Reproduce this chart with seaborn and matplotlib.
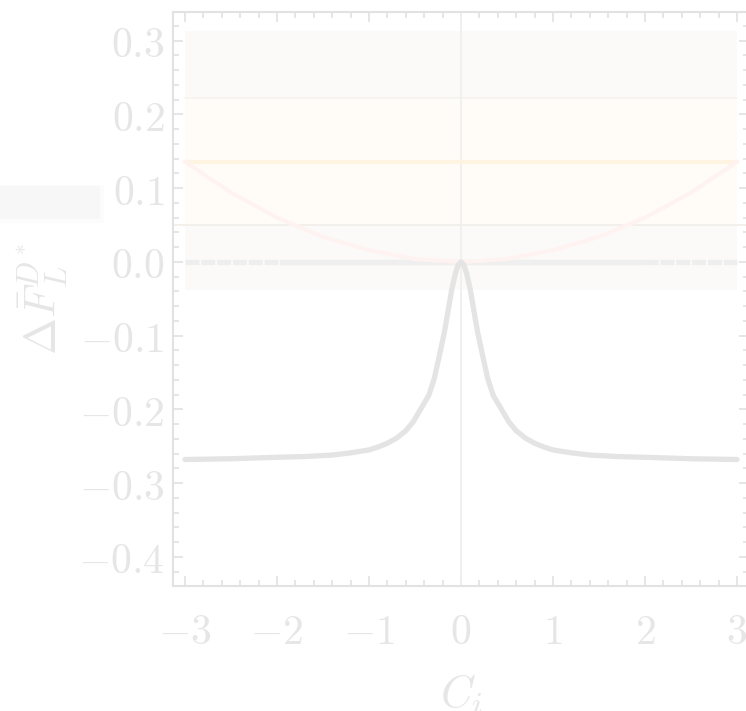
import matplotlib
matplotlib.use("Agg")
import matplotlib.pyplot as plt
import seaborn as sns
import pandas as pd
from matplotlib.patches import Rectangle

# ---------------- data ----------------
curve_x = [-3.0, -2.5, -2.0, -1.7, -1.4, -1.2, -1.0, -0.9, -0.8, -0.7, -0.6, -0.52, -0.44,
           -0.35, -0.29, -0.235, -0.18, -0.14, -0.1, -0.06, -0.03, 0.0,
           0.03, 0.06, 0.1, 0.14, 0.18, 0.235, 0.29, 0.35, 0.44, 0.52, 0.6, 0.7, 0.8, 0.9,
           1.0, 1.2, 1.4, 1.7, 2.0, 2.5, 3.0]
curve_y = [-0.268, -0.267, -0.265, -0.264, -0.262, -0.259, -0.255, -0.251, -0.246, -0.239,
           -0.229, -0.217, -0.200, -0.181, -0.158, -0.127, -0.095, -0.066, -0.037, -0.015,
           -0.004, 0.0,
           -0.004, -0.015, -0.037, -0.066, -0.095, -0.127, -0.158, -0.181, -0.200, -0.217,
           -0.229, -0.239, -0.246, -0.251, -0.255, -0.259, -0.262, -0.264, -0.265, -0.267,
           -0.268]

pink_x = [-3.0, -2.5, -2.0, -1.5, -1.0, -0.5, 0.0, 0.5, 1.0, 1.5, 2.0, 2.5, 3.0]
pink_y = [0.136, 0.094, 0.060, 0.034, 0.016, 0.004, 0.0, 0.004, 0.016, 0.034, 0.060, 0.094, 0.136]

band_outer = [-0.038, 0.313]
band_inner = [0.050, 0.223]
central_value = 0.136
band_x = [-3.0, 3.0]
solid_zero_x = [-1.95, 2.0]

xticks = [-3, -2, -1, 0, 1, 2, 3]
xtick_labels = ["$-3$", "$-2$", "$-1$", "$0$", "$1$", "$2$", "$3$"]
yticks = [-0.4, -0.3, -0.2, -0.1, 0.0, 0.1, 0.2, 0.3]
ytick_labels = ["$-0.4$", "$-0.3$", "$-0.2$", "$-0.1$", "$0.0$", "$0.1$", "$0.2$", "$0.3$"]

# ---------------- style ----------------
sns.set_theme(style="ticks")
plt.rcParams["mathtext.fontset"] = "cm"
plt.rcParams["font.family"] = ["DejaVu Serif"]
plt.rcParams["lines.scale_dashes"] = False

TXT = "#e6e6e6"
SPINE = "#e2e2e2"

W, H = 746, 711
fig = plt.figure(figsize=(W / 100, H / 100), dpi=100)
ax = fig.add_axes([173 / W, (H - 586) / H, (749 - 173) / W, (586 - 12) / H])

# ghost legend box at left
fig.patches.append(Rectangle((0, (H - 223) / H), 104 / W, 38 / H, transform=fig.transFigure,
                             facecolor="#fcfcfc", edgecolor="none", zorder=0))
fig.patches.append(Rectangle((0, (H - 219) / H), 100 / W, 33 / H, transform=fig.transFigure,
                             facecolor="#f7f7f7", edgecolor="none", zorder=1))

# bands
ax.fill_between(band_x, band_outer[0], band_outer[1], color="#fbfaf9", lw=0, zorder=1)
ax.fill_between(band_x, band_inner[0], band_inner[1], color="#fffcf7", lw=0, zorder=1)
ax.plot(band_x, [band_inner[1]] * 2, color="#f6f3ee", lw=1.2, zorder=2)
ax.axhline(band_inner[0], color="#f3f0ec", lw=1.4, zorder=2)
ax.plot(band_x, [central_value] * 2, color="#fff4e2", lw=3.2, zorder=3)

# vertical line at 0
ax.axvline(0, color="#efefef", lw=1.3, zorder=2)

# zero lines
ax.plot(band_x, [0, 0], color="#eeeeee", lw=3.8, dashes=(10, 1.4),
        dash_capstyle="butt", zorder=3)
ax.plot(solid_zero_x, [0, 0], color="#efefef", lw=3.8, zorder=3)

# pink curve
dfp = pd.DataFrame({"x": pink_x, "y": pink_y})
sns.lineplot(data=dfp, x="x", y="y", ax=ax, color="#fff3f2", lw=3.0, zorder=4,
             estimator=None, sort=False)

# gray curve
dfc = pd.DataFrame({"x": curve_x, "y": curve_y})
sns.lineplot(data=dfc, x="x", y="y", ax=ax, color="#e4e4e4", lw=3.8, zorder=5,
             estimator=None, sort=False)

ax.set_xlim(-3.13, 3.13)
ax.set_ylim(-0.4396, 0.339)

ax.set_xticks(xticks)
ax.set_xticklabels(xtick_labels)
ax.set_yticks(yticks)
ax.set_yticklabels(ytick_labels)
ax.xaxis.set_minor_locator(matplotlib.ticker.MultipleLocator(0.2))
ax.yaxis.set_minor_locator(matplotlib.ticker.MultipleLocator(0.02))
ax.tick_params(which="both", direction="in", top=True, right=True, color=SPINE, width=1.2,
               labelcolor=TXT, labelsize=30)
ax.tick_params(which="major", length=7)
ax.tick_params(which="minor", length=4)
ax.tick_params(axis="x", which="major", pad=18)
ax.tick_params(axis="y", which="major", pad=6)

for s in ax.spines.values():
    s.set_color(SPINE)
    s.set_linewidth(1.5)

ax.set_xlabel("$C_i$", fontsize=32, color=TXT, labelpad=14)
ax.set_ylabel(r"$\Delta\bar{F}_L^{D^*}$", fontsize=32, color=TXT, labelpad=6)
ax.set_facecolor("white")

fig.savefig("out.png", dpi=100)
